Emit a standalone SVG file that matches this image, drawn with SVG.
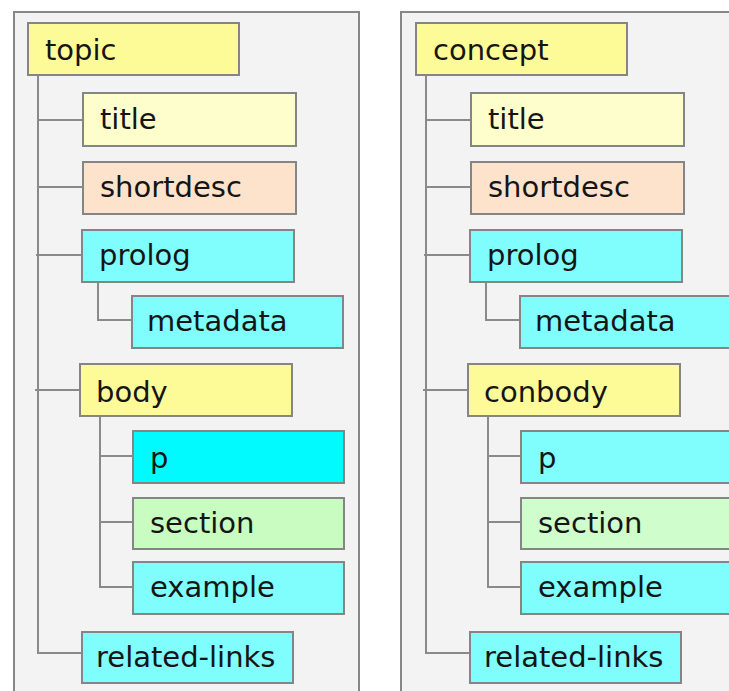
<svg xmlns="http://www.w3.org/2000/svg" width="729" height="691" viewBox="0 0 729 691">
<style>
.panel{fill:#f3f3f3;stroke:#888;stroke-width:2}
.box{stroke:#858585;stroke-width:2}
.y{fill:#fdfb97}
.ly{fill:#fefdcc}
.pe{fill:#fde2cc}
.c{fill:#80fdfd}
.bc{fill:#00fafd}
.g{fill:#c8fcc0}
.lg{fill:#d0fdcc}
text{font-family:"DejaVu Sans","Liberation Sans",sans-serif;font-size:29px;fill:#151515}
.conn path{fill:none;stroke:#8a8a8a;stroke-width:2}
</style>
<rect width="729" height="691" fill="#ffffff"/>
<rect class="panel" x="14" y="12" width="345" height="700"/>
<rect class="panel" x="401" y="12" width="345" height="700"/>

<g class="conn" id="connectors-left">
<path d="M38 75V653H82"/>
<path d="M38 120H83"/>
<path d="M38 187H83"/>
<path d="M36 255H82"/>
<path d="M35 390H80"/>
<path d="M98 282V320H132"/>
<path d="M100 416V587H133"/>
<path d="M100 456H133"/>
<path d="M99 522H133"/>
</g>
<g class="conn" id="connectors-right">
<path d="M426 75V653H470"/>
<path d="M426 120H471"/>
<path d="M426 187H471"/>
<path d="M424 255H470"/>
<path d="M423 390H468"/>
<path d="M486 282V320H520"/>
<path d="M488 416V587H521"/>
<path d="M488 456H521"/>
<path d="M487 522H521"/>
</g>

<g id="topic"><rect class="box y" x="28" y="23" width="211" height="52"/><text x="45" y="60">topic</text></g>
<g id="title-l"><rect class="box ly" x="83" y="93" width="213" height="53"/><text x="100" y="129">title</text></g>
<g id="shortdesc-l"><rect class="box pe" x="83" y="162" width="213" height="52"/><text x="100" y="197">shortdesc</text></g>
<g id="prolog-l"><rect class="box c" x="82" y="230" width="212" height="52"/><text x="99" y="265">prolog</text></g>
<g id="metadata-l"><rect class="box c" x="132" y="296" width="211" height="52"/><text x="147" y="331">metadata</text></g>
<g id="body-l"><rect class="box y" x="80" y="364" width="212" height="52"/><text x="96" y="402">body</text></g>
<g id="p-l"><rect class="box bc" x="133" y="431" width="211" height="52"/><text x="150" y="468">p</text></g>
<g id="section-l"><rect class="box g" x="133" y="498" width="211" height="51"/><text x="150" y="533">section</text></g>
<g id="example-l"><rect class="box c" x="133" y="562" width="211" height="52"/><text x="150" y="597">example</text></g>
<g id="related-links-l"><rect class="box c" x="82" y="632" width="211" height="51"/><text x="96" y="667">related-links</text></g>

<g id="concept"><rect class="box y" x="416" y="23" width="211" height="52"/><text x="433" y="60">concept</text></g>
<g id="title-r"><rect class="box ly" x="471" y="93" width="213" height="53"/><text x="488" y="129">title</text></g>
<g id="shortdesc-r"><rect class="box pe" x="471" y="162" width="213" height="52"/><text x="488" y="197">shortdesc</text></g>
<g id="prolog-r"><rect class="box c" x="470" y="230" width="212" height="52"/><text x="487" y="265">prolog</text></g>
<g id="metadata-r"><rect class="box c" x="520" y="296" width="211" height="52"/><text x="535" y="331">metadata</text></g>
<g id="conbody"><rect class="box y" x="468" y="364" width="212" height="52"/><text x="484" y="402">conbody</text></g>
<g id="p-r"><rect class="box c" x="521" y="431" width="211" height="52"/><text x="538" y="468">p</text></g>
<g id="section-r"><rect class="box lg" x="521" y="498" width="211" height="51"/><text x="538" y="533">section</text></g>
<g id="example-r"><rect class="box c" x="521" y="562" width="211" height="52"/><text x="538" y="597">example</text></g>
<g id="related-links-r"><rect class="box c" x="470" y="632" width="211" height="51"/><text x="484" y="667">related-links</text></g>
</svg>
